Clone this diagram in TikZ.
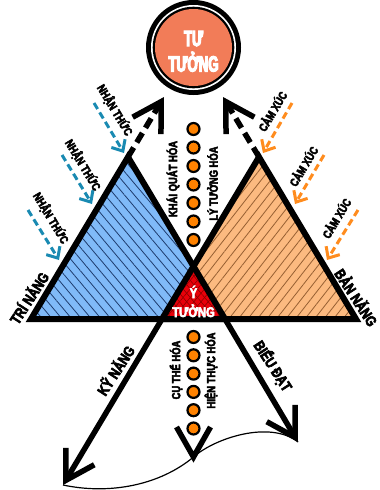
\documentclass[tikz,border=0pt]{standalone}
\usepackage{fontspec}
\newfontfamily\vnlab[FakeStretch=0.8,FakeBold=4]{Liberation Sans Bold}
\newfontfamily\vntitle[FakeStretch=0.6,FakeBold=5]{Liberation Sans Bold}
\usetikzlibrary{arrows.meta,patterns.meta}

\definecolor{bluefill}{RGB}{128,186,248}
\definecolor{bluehatch}{RGB}{30,60,110}
\definecolor{orangefill}{RGB}{252,186,128}
\definecolor{orangehatch}{RGB}{150,95,50}
\definecolor{redfill}{RGB}{232,0,10}
\definecolor{redhatch}{RGB}{140,0,0}
\definecolor{coral}{RGB}{242,124,88}
\definecolor{dotorange}{RGB}{255,130,0}
\definecolor{tealarrow}{RGB}{25,138,178}
\definecolor{orangearrow}{RGB}{255,140,30}

\begin{document}
\begin{tikzpicture}[x=1pt,y=-1pt,
  edge/.style={line width=6pt, line join=miter, miter limit=2.5},
  bigarrow/.style={line width=5.5pt, -{Straight Barb[length=28pt,width=33pt,sharp]}},
  dasharrow/.style={bigarrow, dash pattern=on 11pt off 6pt},
  vshape/.style={line width=5.5pt, line join=miter, line cap=butt},
  thinarrow/.style={line width=3pt, dash pattern=on 7pt off 4pt,
    -{Straight Barb[length=9pt,width=16pt,sharp]}},
  dot/.style={circle, fill=dotorange, draw=black, line width=2.2pt, minimum size=12pt, inner sep=0pt},
  lab/.style={font=\vnlab\fontsize{11.8}{12}\selectfont, inner sep=0pt},
  biglab/.style={font=\vnlab\fontsize{15}{16}\selectfont, inner sep=0pt},
  titlelab/.style={font=\vntitle\fontsize{22}{23}\selectfont, text=white, inner sep=0pt, anchor=base},
  redlab/.style={font=\vnlab\fontsize{14}{15}\selectfont, text=white, inner sep=0pt, anchor=base}
]
\fill[white] (0,0) rectangle (380,490);
\useasboundingbox (0,0) rectangle (380,490);

% triangle corners
\coordinate (bL) at (31,319);
\coordinate (bA) at (128,157);
\coordinate (bR) at (225,319);
\coordinate (oL) at (162,319);
\coordinate (oA) at (259,157);
\coordinate (oR) at (356,319);
\coordinate (rA) at (intersection of bA--bR and oA--oL);

% free ends of the arrows
\coordinate (upL) at (164,97);
\coordinate (upR) at (223,97);
\coordinate (kyTip) at (63,485);
\coordinate (bdTip) at (298,442);
\coordinate (vTip) at (193.5,457);
\coordinate (vL) at (176.5,427);
\coordinate (vR) at (210.5,427);

% thin curve joining the three lower tips
\draw[line width=1.2pt] (kyTip) .. controls (110,495) and (160,485) .. (vTip)
  .. controls (215,438) and (270,420) .. (bdTip);

% filled triangles with hatching
\fill[bluefill] (bL) -- (bA) -- (bR) -- cycle;
\fill[pattern={Lines[angle=-50,distance=7.5pt,line width=0.8pt]}, pattern color=bluehatch]
  (bL) -- (bA) -- (bR) -- cycle;
\fill[orangefill] (oL) -- (oA) -- (oR) -- cycle;
\fill[pattern={Lines[angle=52,distance=7.5pt,line width=0.8pt]}, pattern color=orangehatch]
  (oL) -- (oA) -- (oR) -- cycle;
\fill[redfill] (oL) -- (rA) -- (bR) -- cycle;
\fill[pattern={Lines[angle=50,distance=5.5pt,line width=0.6pt]}, pattern color=redhatch]
  (oL) -- (rA) -- (bR) -- cycle;
\fill[pattern={Lines[angle=-50,distance=5.5pt,line width=0.6pt]}, pattern color=redhatch]
  (oL) -- (rA) -- (bR) -- cycle;

\draw[edge] (bL) -- (bA) -- (bR) -- cycle;
\draw[edge] (oL) -- (oA) -- (oR) -- cycle;

% main arrows
\draw[dasharrow] (bA) -- (upL);
\draw[dasharrow] (oA) -- (upR);
\draw[bigarrow] (oL) -- (kyTip);
\draw[bigarrow] (bR) -- (bdTip);
\draw[vshape] (vL) -- (vTip) -- (vR);

% central circle
\node[circle, fill=black, minimum size=95pt, inner sep=0pt] (tt) at (193.5,47.5) {};
\fill[white] (tt.center) circle[radius=42.5pt];
\fill[black] (tt.center) circle[radius=40.8pt];
\fill[coral] (tt.center) circle[radius=38.5pt];
\node[titlelab] (tt1) at (193.5,46) {TƯ};
\node[titlelab] (tt2) at (193.5,71.5) {TƯỞNG};

% red overlap label
\node[redlab] (y1) at (193.5,298) {Ý};
\node[redlab] (y2) at (193.5,317) {TƯỞNG};

% dot columns
\foreach \i in {0,...,6} \node[dot] (u\i) at (193.5,129+18.5*\i) {};
\foreach \i in {0,...,5} \node[dot] (d\i) at (193.5,337+18.3*\i) {};

% incoming arrows
\coordinate (nt1) at (94,103);  \coordinate (nh1) at (124,153);
\coordinate (nt2) at (62,155);  \coordinate (nh2) at (92,204);
\coordinate (nt3) at (28,210);  \coordinate (nh3) at (59,260);
\coordinate (ct1) at (292,103); \coordinate (ch1) at (263,153);
\coordinate (ct2) at (324,155); \coordinate (ch2) at (295,204);
\coordinate (ct3) at (358,210); \coordinate (ch3) at (327,260);
\draw[thinarrow, tealarrow] (nt1) -- (nh1);
\draw[thinarrow, tealarrow] (nt2) -- (nh2);
\draw[thinarrow, tealarrow] (nt3) -- (nh3);
\draw[thinarrow, orangearrow] (ct1) -- (ch1);
\draw[thinarrow, orangearrow] (ct2) -- (ch2);
\draw[thinarrow, orangearrow] (ct3) -- (ch3);

% labels
\node[lab, rotate=-59] (n1) at (115,110) {NHẬN THỨC};
\node[lab, rotate=-59] (n2) at (83,165) {NHẬN THỨC};
\node[lab, rotate=-59] (n3) at (51,218) {NHẬN THỨC};
\node[lab, rotate=59] (c1) at (272,111) {CẢM XÚC};
\node[lab, rotate=59] (c2) at (303,166) {CẢM XÚC};
\node[lab, rotate=59] (c3) at (336,218) {CẢM XÚC};
\node[lab, rotate=90] (kq) at (173,179) {KHÁI QUÁT HÓA};
\node[lab, rotate=90] (lt) at (212.5,183.5) {LÝ TƯỞNG HÓA};
\node[lab, rotate=90] (ct) at (176,370) {CỤ THỂ HÓA};
\node[lab, rotate=90] (ht) at (211,370.5) {HIỆN THỰC HÓA};

\node[biglab, rotate=57] (tri) at (28.5,297.5) {TRÍ NĂNG};
\node[biglab, rotate=-57] (ban) at (357,297) {BẢN NĂNG};
\node[biglab, rotate=57] (ky) at (115,370) {KỸ NĂNG};
\node[biglab, rotate=-57] (bieu) at (273,366) {BIỂU ĐẠT};
\end{tikzpicture}
\end{document}
